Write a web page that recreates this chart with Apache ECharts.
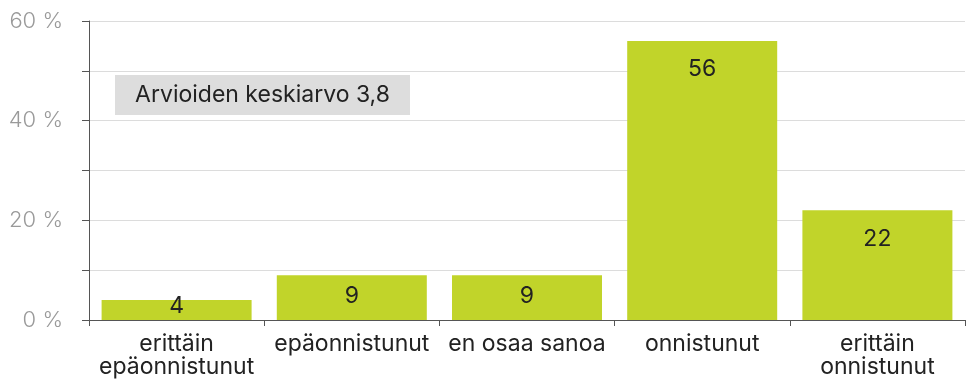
<!DOCTYPE html>
<html>
<head>
<meta charset="utf-8">
<script src="https://cdn.jsdelivr.net/npm/echarts@6/dist/echarts.min.js"></script>
<style>
  html, body { margin: 0; padding: 0; background: #fff; }
  #chart { width: 966px; height: 380px; }
</style>
</head>
<body>
<div id="chart"></div>
<script>
// Share of ratings per answer option (%)
const categories = ['erittäin\nepäonnistunut', 'epäonnistunut', 'en osaa sanoa', 'onnistunut', 'erittäin\nonnistunut'];
const values = [4, 9, 9, 56, 22];
const yTicks = [0, 20, 40, 60];
const averageText = 'Arvioiden keskiarvo 3,8';

const FONT = 'Inter, Roboto, "Noto Sans", sans-serif';
const BAR = '#c1d42a';

// Short bars get their label centred in the bar, tall bars near the top
const barData = values.map(v => {
  if (v >= 15) {
    return { value: v, label: { position: 'insideTop', distance: 17 } };
  }
  return { value: v, label: { position: 'inside', offset: [0, v < 6 ? -4 : -1] } };
});

const chart = echarts.init(document.getElementById('chart'));
chart.setOption({
  animation: false,
  grid: { left: 89, right: 1, top: 21, bottom: 60, containLabel: false },
  xAxis: {
    type: 'category',
    data: categories,
    axisLine: { lineStyle: { color: '#555', width: 1 } },
    axisTick: { show: true, length: 6, lineStyle: { color: '#555' } },
    axisLabel: {
      color: '#222', fontFamily: FONT, fontSize: 23, lineHeight: 23,
      margin: 13, interval: 0
    }
  },
  yAxis: {
    type: 'value',
    min: 0, max: 60, interval: 10,
    axisLine: { show: true, lineStyle: { color: '#555', width: 1 } },
    axisTick: { show: true, length: 7, lineStyle: { color: '#555' } },
    splitLine: { show: true, lineStyle: { color: '#dcdcdc', width: 1 } },
    axisLabel: {
      color: '#9a9a9a', fontFamily: FONT, fontSize: 22, fontWeight: 300, margin: 26,
      formatter: v => (yTicks.indexOf(v) >= 0 ? v + ' %' : '')
    }
  },
  series: [{
    type: 'bar',
    data: barData,
    barWidth: 150,
    itemStyle: { color: BAR },
    label: {
      show: true, color: '#222', fontFamily: FONT, fontSize: 23
    }
  }],
  graphic: [{
    type: 'group',
    left: 115, top: 75,
    children: [
      { type: 'rect', shape: { x: 0, y: 0, width: 295, height: 40 }, style: { fill: '#dddddd' } },
      {
        type: 'text', x: 147.5, y: 20,
        style: {
          text: averageText, fill: '#222', font: '23px ' + FONT,
          align: 'center', verticalAlign: 'middle'
        }
      }
    ]
  }]
});
</script>
</body>
</html>
